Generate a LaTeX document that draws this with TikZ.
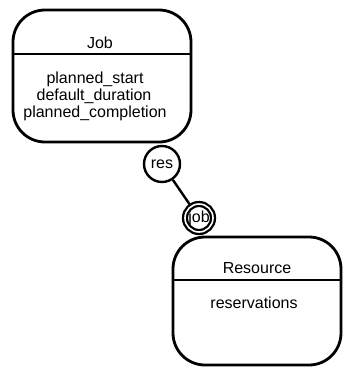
\documentclass[tikz,border=0pt]{standalone}
\usepackage{fontspec}
\setmainfont{Liberation Sans}
\begin{document}
\begin{tikzpicture}[x=1pt,y=-1pt,
  every node/.style={font=\fontsize{16}{18}\selectfont},
  classbox/.style={draw, line width=2.8pt, rounded corners=32pt, inner sep=0pt},
  divider/.style={line width=2.4pt},
  label/.style={anchor=base, inner sep=0pt},
  rolecircle/.style={draw, circle, line width=2.4pt, minimum size=36pt, inner sep=0pt},
  keycircle/.style={circle, draw=black, double=white, double distance=1.6pt,
                    line width=2.3pt, minimum size=28pt, inner sep=0pt},
  link/.style={line width=2.4pt}]
\useasboundingbox (0,0) rectangle (343,368);

% Job entity
\node[classbox, minimum width=178pt, minimum height=132pt] (jobbox) at (102,76) {};
\draw[divider] (jobbox.west |- 0,54) -- (jobbox.east |- 0,54);
\node[label] (jobtitle) at (100,48) {Job};
\node[label] (attr1) at (95,83) {planned\_start};
\node[label] (attr2) at (94,100) {default\_duration};
\node[label] (attr3) at (95,117) {planned\_completion};

% Resource entity
\node[classbox, minimum width=168pt, minimum height=128pt] (resbox) at (257,301) {};
\draw[divider] (resbox.west |- 0,280) -- (resbox.east |- 0,280);
\node[label] (restitle) at (257,273) {Resource};
\node[label] (resattr) at (254,308) {reservations};

% Relationship roles
\node[rolecircle] (res) at (162,164) {res};
\node[keycircle] (jobkey) at (199,218) {job};
\draw[link] (res) -- (jobkey);
\end{tikzpicture}
\end{document}
